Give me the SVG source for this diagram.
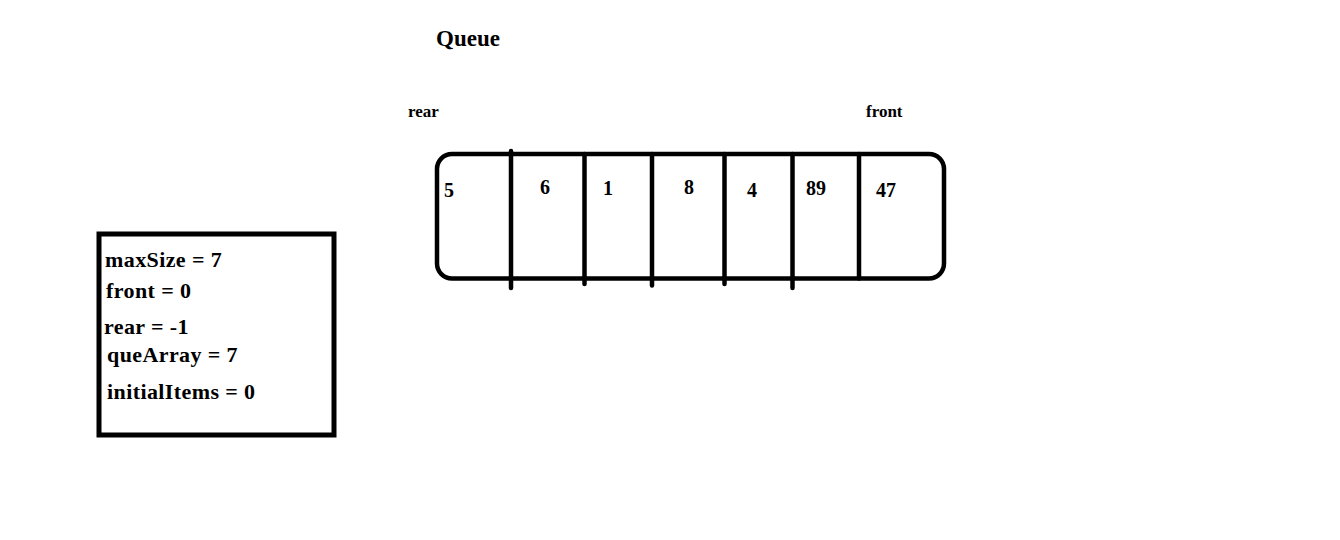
<svg xmlns="http://www.w3.org/2000/svg" width="1340" height="540" viewBox="0 0 1340 540">
<style>
  text { font-family: "Liberation Serif", "Times New Roman", serif; font-weight: bold; fill: #000; }
  .title { font-size: 23px; }
  .ptr { font-size: 17px; }
  .val { font-size: 20px; }
  .var { font-size: 22px; letter-spacing: 0.4px; }
  .stroke { fill: none; stroke: #000; stroke-width: 4.5; stroke-linecap: round; }
</style>
<rect width="1340" height="540" fill="#fff"/>
<g id="title"><text class="title" x="436" y="46">Queue</text></g>
<g id="rear-label"><text class="ptr" x="408" y="117">rear</text></g>
<g id="front-label"><text class="ptr" x="866" y="117">front</text></g>
<g id="queue">
  <rect class="stroke" x="437" y="154" width="507" height="124.5" rx="15" ry="15"/>
  <line class="stroke" x1="511" y1="151" x2="511" y2="288"/>
  <line class="stroke" x1="584.5" y1="154" x2="584.5" y2="284"/>
  <line class="stroke" x1="652" y1="154" x2="652" y2="285.5"/>
  <line class="stroke" x1="724.5" y1="154" x2="724.5" y2="284"/>
  <line class="stroke" x1="792.5" y1="154" x2="792.5" y2="288"/>
  <line class="stroke" x1="859" y1="154" x2="859" y2="278.5"/>
  <text class="val" x="444" y="197">5</text>
  <text class="val" x="540" y="194">6</text>
  <text class="val" x="603" y="195">1</text>
  <text class="val" x="684" y="194">8</text>
  <text class="val" x="747" y="197">4</text>
  <text class="val" x="806" y="195">89</text>
  <text class="val" x="876" y="197">47</text>
</g>
<g id="variables">
  <rect class="stroke" x="99" y="234" width="235" height="201" stroke-linecap="butt" style="stroke-width:5"/>
  <text class="var" x="105" y="267">maxSize = 7</text>
  <text class="var" x="106" y="298">front = 0</text>
  <text class="var" x="104" y="334">rear = -1</text>
  <text class="var" x="107" y="362">queArray = 7</text>
  <text class="var" x="107" y="399">initialItems = 0</text>
</g>
</svg>
